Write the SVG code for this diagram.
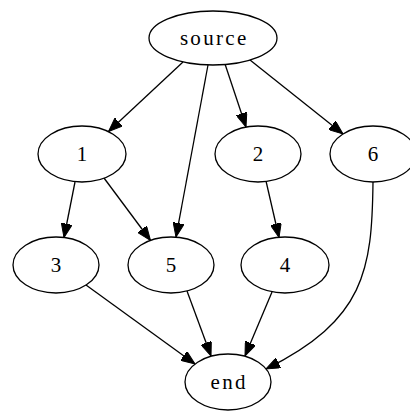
<svg xmlns="http://www.w3.org/2000/svg" width="410" height="412" viewBox="0 0 410 412">
<style>
.n ellipse{fill:#fff;stroke:#000;stroke-width:1.3}
.n text{font-family:"Liberation Serif","Times New Roman",serif;font-size:21px;text-anchor:middle;fill:#000}
.w{letter-spacing:2.3px}
.e path{fill:none;stroke:#000;stroke-width:1.3;marker-end:url(#ah)}
</style>
<defs>
<marker id="ah" viewBox="0 0 14 11" refX="14" refY="5.5" markerWidth="14" markerHeight="11" markerUnits="userSpaceOnUse" orient="auto">
<path d="M0,0 L14,5.5 L0,11 z" fill="#000" stroke="#000" stroke-width="1"/>
</marker>
</defs>
<g id="edges" class="e">
<path d="M183,62 L108.5,131.5"/>
<path d="M208,65 L176,237"/>
<path d="M225,64 L246,127"/>
<path d="M250,60 L343,134"/>
<path d="M75,182 L64,237.5"/>
<path d="M104,178 L150.5,240.5"/>
<path d="M266,181 L279,237.5"/>
<path d="M86,285 L195,364"/>
<path d="M187,291 L211,356"/>
<path d="M272,292 L245,356"/>
<path d="M373,182 C372,270 365,320 266,369"/>
</g>
<g id="source" class="n"><ellipse cx="213" cy="38" rx="64" ry="27"/><text class="w" x="214.2" y="45">source</text></g>
<g id="n1" class="n"><ellipse cx="82" cy="154" rx="44" ry="28"/><text x="82" y="161">1</text></g>
<g id="n2" class="n"><ellipse cx="258" cy="154" rx="43" ry="28"/><text x="258" y="161">2</text></g>
<g id="n6" class="n"><ellipse cx="373" cy="154" rx="43" ry="28"/><text x="373" y="161">6</text></g>
<g id="n3" class="n"><ellipse cx="56" cy="265" rx="43" ry="28"/><text x="56" y="272">3</text></g>
<g id="n5" class="n"><ellipse cx="171" cy="265" rx="43" ry="28"/><text x="171" y="272">5</text></g>
<g id="n4" class="n"><ellipse cx="285" cy="265" rx="44" ry="28"/><text x="285" y="272">4</text></g>
<g id="end" class="n"><ellipse cx="228" cy="382" rx="43" ry="28"/><text class="w" x="229.2" y="389">end</text></g>
</svg>
